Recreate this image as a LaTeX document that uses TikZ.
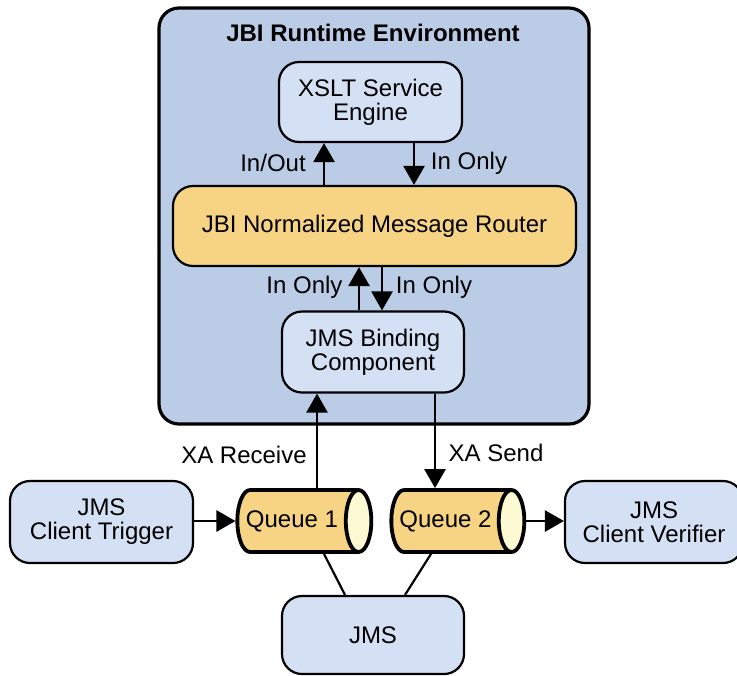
\documentclass[tikz,border=0pt]{standalone}
\usepackage{fontspec}
\setmainfont{Liberation Sans}
\definecolor{envblue}{RGB}{187, 204, 230}
\definecolor{boxblue}{RGB}{212, 224, 243}
\definecolor{routerorange}{RGB}{247, 212, 131}
\definecolor{capyellow}{RGB}{253, 249, 210}
\usetikzlibrary{shapes.geometric, arrows.meta}

\begin{document}
\begin{tikzpicture}[x=0.5pt, y=-0.5pt,
    lbl/.style={font=\fontsize{12}{12}\selectfont},
    box/.style={draw, line width=1.1pt, rounded corners=10pt, fill=boxblue, align=center,
      inner sep=0pt, font=\fontsize{12}{12}\selectfont},
    queue/.style={cylinder, shape border rotate=0, aspect=1.2, draw, line width=1.9pt,
      cylinder uses custom fill, cylinder body fill=routerorange, cylinder end fill=capyellow,
      minimum height=67pt, minimum width=31pt, inner sep=0pt, font=\fontsize{12}{12}\selectfont},
    arrow/.style={-{Triangle[length=9.5pt, width=10.5pt]}, line width=1.3pt},
    link/.style={line width=1.1pt}]
  \useasboundingbox (0,0) rectangle (737,675);
  \clip (0,0) rectangle (737,675);

  % Runtime environment
  \node[draw, line width=1.6pt, rounded corners=10pt, fill=envblue, minimum width=215pt, minimum height=208pt] (env) at (374,216) {};
  \node[font=\fontsize{12}{12}\selectfont\bfseries] (title) at (373,33) {JBI Runtime Environment};

  % Components inside
  \node[box, minimum width=91.5pt, minimum height=40pt] (xslt) at (370.5,102) {XSLT Service\\Engine};
  \node[box, fill=routerorange, minimum width=201.5pt, minimum height=40pt] (router) at (374.5,226) {JBI Normalized Message Router};
  \node[box, minimum width=91pt, minimum height=40.5pt] (binding) at (373,352) {JMS Binding\\Component};

  % Router <-> service engine
  \draw[arrow] (router.north -| 324,0) -- (xslt.south -| 324,0);
  \draw[arrow] (xslt.south -| 414,0) -- (router.north -| 414,0);
  \node[lbl] (inout) at (273,163) {In/Out};
  \node[lbl] (inonly1) at (469,163) {In Only};

  % Router <-> binding component
  \draw[arrow] (binding.north -| 359,0) -- (router.south -| 359,0);
  \draw[arrow] (router.south -| 382,0) -- (binding.north -| 382,0);
  \node[lbl] (inonly2) at (304.5,287) {In Only};
  \node[lbl] (inonly3) at (434,287) {In Only};

  % Queues and clients
  \node[queue] (queue1) at (297,521) {\hspace*{-5pt}Queue 1};
  \node[queue, minimum height=66.5pt] (queue2) at (450.5,521) {\hspace*{-5pt}Queue 2};
  \node[box, minimum width=91.5pt, minimum height=41pt] (trigger) at (101.5,522) {JMS\\Client Trigger};
  \node[box, minimum width=89pt, minimum height=41pt] (verifier) at (654,522) {JMS\\Client Verifier};
  \node[box, minimum width=91pt, minimum height=39pt] (jms) at (373,635) {JMS};

  \draw[arrow] (queue1.north -| 317,0) -- (binding.south -| 317,0);
  \draw[arrow] (binding.south -| 435,0) -- (queue2.north -| 435,0);
  \node[lbl] (xarecv) at (244,455) {XA Receive};
  \node[lbl] (xasend) at (496,453) {XA Send};

  \draw[arrow] (trigger.east |- queue1.west) -- (queue1.west);
  \draw[arrow] (queue2.east) -- (verifier.west |- queue2.east);

  % Queues to JMS
  \draw[link] (queue1.south -| 324,0) -- (jms.north -| 345,0);
  \draw[link] (queue2.south -| 431,0) -- (jms.north -| 405,0);
\end{tikzpicture}
\end{document}
